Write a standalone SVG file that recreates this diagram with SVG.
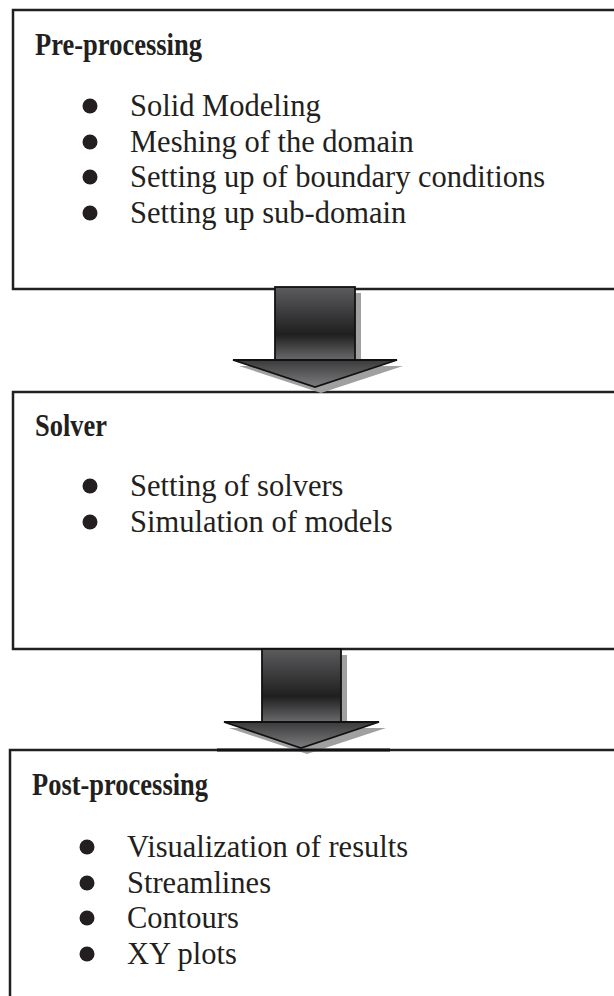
<svg xmlns="http://www.w3.org/2000/svg" width="614" height="996" viewBox="0 0 614 996">
<style>
.box{fill:#fff;stroke:#231f20;stroke-width:2.5}
.h{font-family:"Liberation Serif","Times New Roman",serif;font-weight:bold;font-size:31px;fill:#231f20}
.t{font-family:"Liberation Serif","Times New Roman",serif;font-size:30.5px;fill:#231f20}
.b{fill:#231f20}
.ar{stroke:#111;stroke-width:1.8;stroke-linejoin:miter}
.sh{fill:#a0a0a0}
</style>
<defs>
<linearGradient id="gs" x1="0" y1="0" x2="0" y2="1">
<stop offset="0" stop-color="#5c5c5e"/>
<stop offset="0.65" stop-color="#1f1f20"/>
<stop offset="1" stop-color="#6a6a6c"/>
</linearGradient>
<linearGradient id="gh" x1="0" y1="0" x2="0" y2="1">
<stop offset="0" stop-color="#3a3a3b"/>
<stop offset="1" stop-color="#7c7c7e"/>
</linearGradient>
</defs>
<rect width="614" height="996" fill="#fff"/>

<g id="node-preprocessing">
<rect class="box" x="13" y="10" width="640" height="279"/>
<text class="h" x="35" y="55" textLength="167" lengthAdjust="spacingAndGlyphs">Pre-processing</text>
<circle class="b" cx="90" cy="106" r="7.5"/>
<text class="t" x="130" y="116">Solid Modeling</text>
<circle class="b" cx="90" cy="142" r="7.5"/>
<text class="t" x="130" y="152">Meshing of the domain</text>
<circle class="b" cx="90" cy="177" r="7.5"/>
<text class="t" x="130" y="187">Setting up of boundary conditions</text>
<circle class="b" cx="90" cy="213" r="7.5"/>
<text class="t" x="130" y="223">Setting up sub-domain</text>
</g>

<g id="node-solver">
<rect class="box" x="13" y="392" width="640" height="257"/>
<text class="h" x="35" y="436" textLength="72" lengthAdjust="spacingAndGlyphs">Solver</text>
<circle class="b" cx="90" cy="486" r="7.5"/>
<text class="t" x="130" y="496">Setting of solvers</text>
<circle class="b" cx="90" cy="522" r="7.5"/>
<text class="t" x="130" y="532">Simulation of models</text>
</g>

<g id="node-postprocessing">
<rect class="box" x="10" y="750" width="640" height="270"/>
<text class="h" x="32" y="795" textLength="176" lengthAdjust="spacingAndGlyphs">Post-processing</text>
<circle class="b" cx="87" cy="847" r="7.5"/>
<text class="t" x="127" y="857">Visualization of results</text>
<circle class="b" cx="87" cy="883" r="7.5"/>
<text class="t" x="127" y="893">Streamlines</text>
<circle class="b" cx="87" cy="918" r="7.5"/>
<text class="t" x="127" y="928">Contours</text>
<circle class="b" cx="87" cy="954" r="7.5"/>
<text class="t" x="127" y="964">XY plots</text>
</g>

<g id="connectors">
<g id="arrow-1">
<polygon class="sh" points="281,293 361,293 361,366 403,366 321,393 239,366 281,366"/>
<rect class="ar" x="275" y="287" width="80" height="73" fill="url(#gs)"/>
<polygon class="ar" points="233,360 397,360 315,387" fill="url(#gh)"/>
</g>
<g id="arrow-2">
<polygon class="sh" points="268,655 347,655 347,728 386,728 307,754 229,728 268,728"/>
<rect class="ar" x="262" y="649" width="79" height="73" fill="url(#gs)"/>
<polygon class="ar" points="224,722 379,722 301,748" fill="url(#gh)"/>
<line x1="217" y1="750" x2="390" y2="750" stroke="#111" stroke-width="3"/>
</g>
</g>
</svg>
